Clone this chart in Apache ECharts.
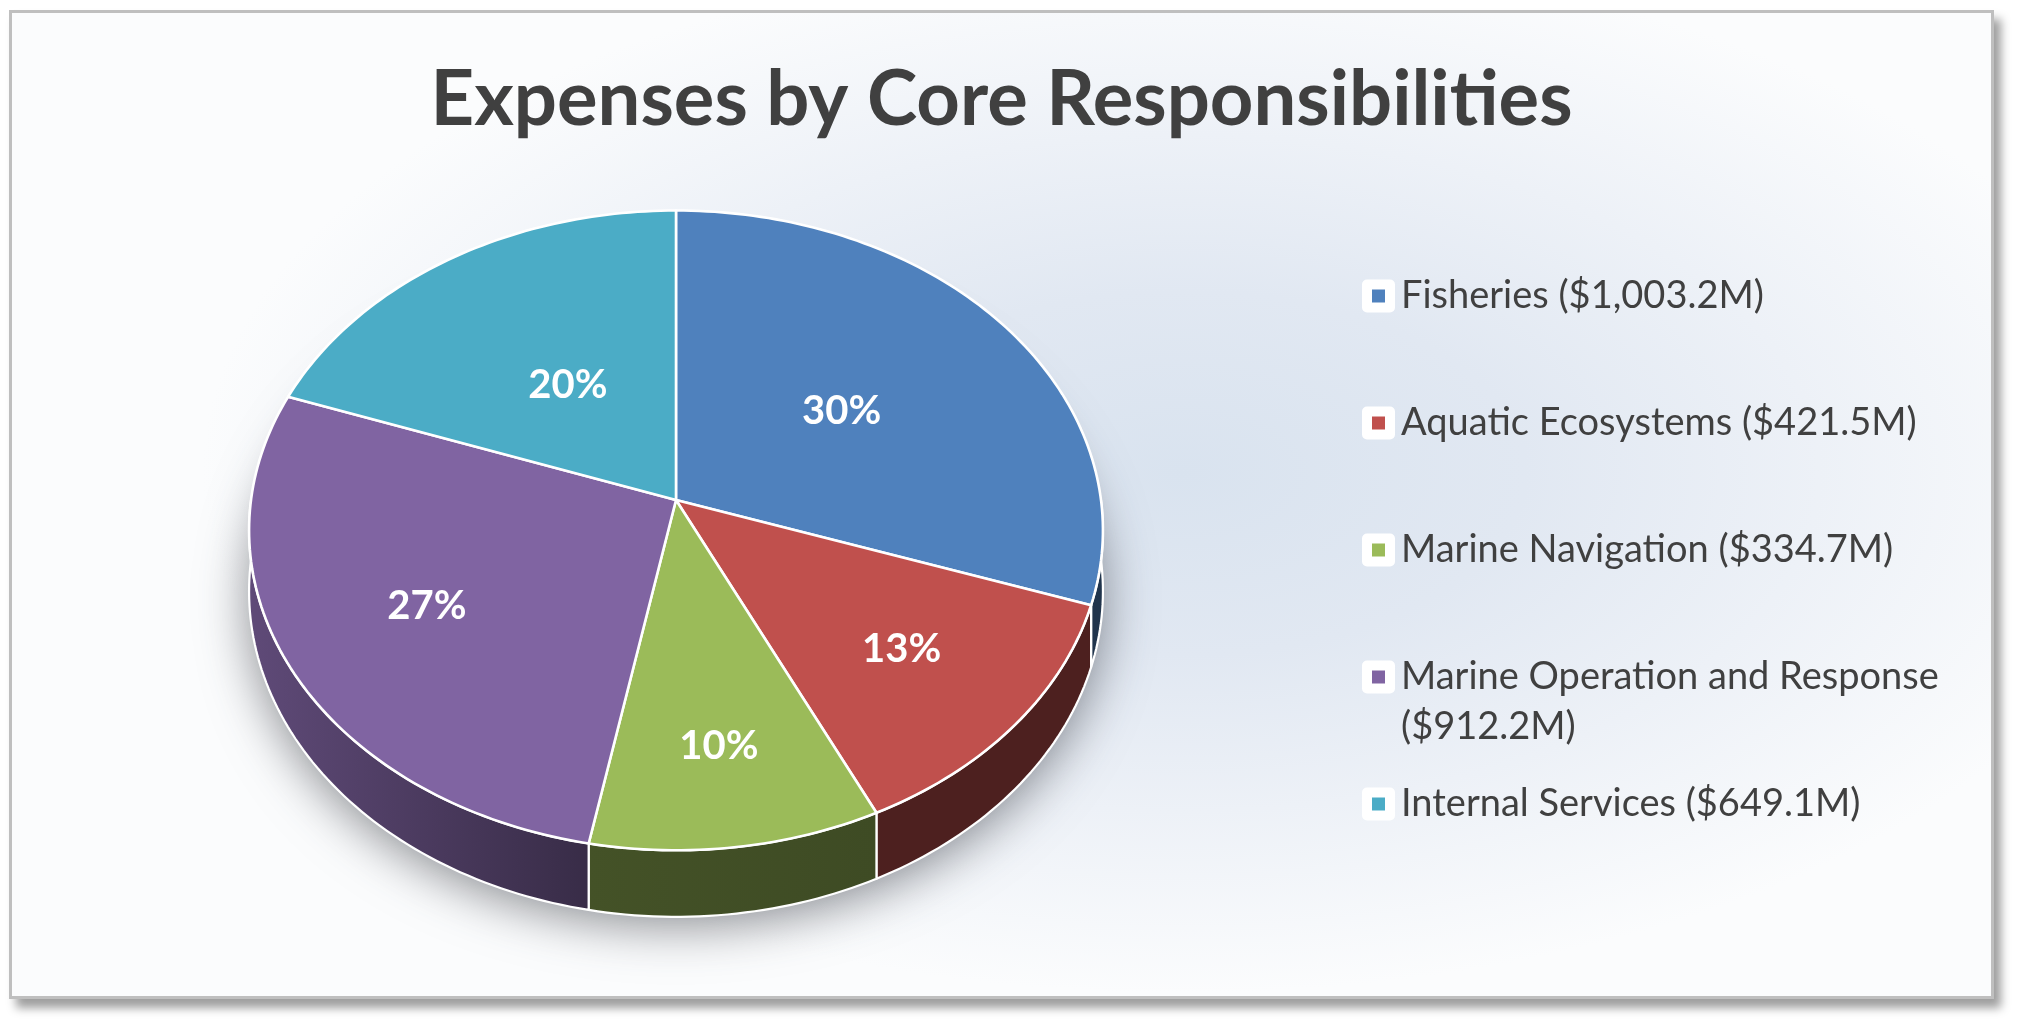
<!DOCTYPE html>
<html>
<head>
<meta charset="utf-8">
<title>Expenses by Core Responsibilities</title>
<script src="https://cdn.jsdelivr.net/npm/echarts@6/dist/echarts.min.js"></script>
<style>
html, body { margin: 0; padding: 0; width: 2018px; height: 1029px; overflow: hidden; background: #ffffff; }
#frame {
    position: absolute; left: 9px; top: 10px; width: 1979px; height: 983px;
    border: 3px solid #bfbfbf;
    box-shadow: 7px 9px 9px rgba(0, 0, 0, 0.38);
    background: radial-gradient(ellipse 980px 520px at 1170px 460px, #d9e3ef 0%, #e1e8f2 35%, #edf1f7 65%, #fbfcfd 100%);
}
#chart { position: absolute; left: 12px; top: 13px; width: 1979px; height: 983px; }
</style>
</head>
<body>
<div id="frame"></div>
<div id="chart"></div>
<script>
// core responsibilities and their expenses (millions of dollars)
var categories = ['Fisheries', 'Aquatic Ecosystems', 'Marine Navigation', 'Marine Operation and Response', 'Internal Services'];
var expenses = [1003.2, 421.5, 334.7, 912.2, 649.1];
var sliceColors = ['#4f81bd', '#c0504d', '#9bbb59', '#8064a2', '#4bacc6'];

var TAU = Math.PI * 2;
var PERSP = 0.095;   // perspective strength of the tilted disc
var DEPTH = 0.19;    // thickness of the disc in radius units
var LINE_H = 50;

var total = expenses.reduce(function (a, b) { return a + b; }, 0);
var cumBefore = [];
expenses.reduce(function (acc, v, i) { cumBefore[i] = acc; return acc + v; }, 0);

// legend names like "Fisheries ($1,003.2M)", long ones wrapped before the amount
var legendNames = categories.map(function (c, i) {
    var amt = '($' + expenses[i].toLocaleString('en-US', { minimumFractionDigits: 1, maximumFractionDigits: 1 }) + 'M)';
    return c + (c.length > 24 ? '\n' : ' ') + amt;
});

function shade(hex, theta) {
    // walls darker on the right/front, lighter towards the left edge
    var deg = theta * 180 / Math.PI;
    var f = deg <= 180 ? 0.40 : 0.40 + 0.34 * (deg - 180) / 90;
    var r = parseInt(hex.substr(1, 2), 16), g = parseInt(hex.substr(3, 2), 16), b = parseInt(hex.substr(5, 2), 16);
    return 'rgb(' + Math.round(r * f) + ',' + Math.round(g * f) + ',' + Math.round(b * f) + ')';
}

function makePt(api) {
    return function (theta, r, z) {
        var x = r * Math.sin(theta), y = -r * Math.cos(theta);
        var w = 1 - PERSP * y;
        return api.coord([x / w, (y + z) / w]);
    };
}

function renderShadow(params, api) {
    var pt = makePt(api);
    var pts = [];
    for (var i = 0; i <= 180; i++) pts.push(pt(TAU * i / 180, 1, DEPTH * 0.8));
    return {
        type: 'polygon', shape: { points: pts },
        style: { fill: '#c9cdd3', shadowBlur: 50, shadowOffsetY: 22, shadowColor: 'rgba(60,64,72,0.6)' }
    };
}

function renderSlice(k, params, api) {
    var pt = makePt(api);
    var v = api.value(0);
    var start = cumBefore[k] / total * TAU;
    var end = start + v / total * TAU;
    var color = sliceColors[k];
    var children = [];
    var i, n;

    // visible side wall (front half only)
    var a0 = Math.max(start, Math.PI / 2), a1 = Math.min(end, Math.PI * 1.5);
    if (a1 > a0) {
        var wall = [];
        n = Math.max(2, Math.ceil((a1 - a0) / 0.02));
        for (i = 0; i <= n; i++) wall.push(pt(a0 + (a1 - a0) * i / n, 1, 0));
        for (i = n; i >= 0; i--) wall.push(pt(a0 + (a1 - a0) * i / n, 1, DEPTH));
        children.push({
            type: 'polygon', shape: { points: wall },
            style: {
                fill: new echarts.graphic.LinearGradient(0, 0, 1, 0, [
                    { offset: 0, color: shade(color, a1) },
                    { offset: 1, color: shade(color, a0) }
                ]),
                stroke: '#ffffff', lineWidth: 2.2, lineJoin: 'round'
            }
        });
    }

    // top face
    var top = [pt(0, 0, 0)];
    n = Math.max(2, Math.ceil((end - start) / 0.02));
    for (i = 0; i <= n; i++) top.push(pt(start + (end - start) * i / n, 1, 0));
    children.push({
        type: 'polygon', shape: { points: top },
        style: { fill: color, stroke: '#ffffff', lineWidth: 2.6, lineJoin: 'round' }
    });

    // percentage label, pushed further out on the front of the disc
    var frac = v / total;
    var mid = (start + end) / 2;
    var lp = pt(mid, 0.58 - 0.15 * Math.cos(mid), 0);
    children.push({
        type: 'text', x: lp[0], y: lp[1],
        style: {
            text: Math.round(frac * 100) + '%', fill: '#ffffff',
            font: 'bold 40px Lato', align: 'center', verticalAlign: 'middle'
        }
    });
    return { type: 'group', children: children };
}

var chart = echarts.init(document.getElementById('chart'));

var seriesList = [{
    type: 'custom', name: 'shadow', silent: true, z: 1,
    itemStyle: { color: '#c9cdd3' },
    renderItem: renderShadow, data: [0]
}];
legendNames.forEach(function (name, k) {
    seriesList.push({
        type: 'custom', name: name, z: 2,
        itemStyle: { color: sliceColors[k] },
        renderItem: function (params, api) { return renderSlice(k, params, api); },
        data: [expenses[k]]
    });
});

var legends = legendNames.map(function (name, k) {
    var twoLine = name.indexOf('\n') >= 0;
    var center = 283 + 127 * k;
    return {
        orient: 'vertical', left: 1350, top: center - (twoLine ? 1.5 : 0.5) * LINE_H,
        padding: 0, itemWidth: 23, itemHeight: 23, icon: 'rect', selectedMode: false,
        itemStyle: { color: sliceColors[k], borderColor: '#ffffff', borderWidth: 10, borderJoin: 'round' },
        // wrapped name: an empty first line keeps the icon level with the first text line
        formatter: function (n) { return twoLine ? '\n' + n : n; },
        textStyle: {
            fontFamily: 'Lato', fontSize: 38, color: '#404040', lineHeight: LINE_H,
            padding: [0, 0, 0, 6]
        },
        data: [name]
    };
});

chart.setOption({
    animation: false,
    color: sliceColors,
    title: {
        text: 'Expenses by Core Responsibilities',
        left: 'center', top: 44,
        textStyle: { fontFamily: 'Lato', fontWeight: 'bold', fontSize: 76, color: '#404040' }
    },
    legend: legends,
    grid: { left: 239, top: 170, width: 850, height: 634 },
    xAxis: { type: 'value', min: -1, max: 1, show: false },
    yAxis: { type: 'value', min: -1, max: 1, inverse: true, show: false },
    series: seriesList
});
</script>
</body>
</html>
